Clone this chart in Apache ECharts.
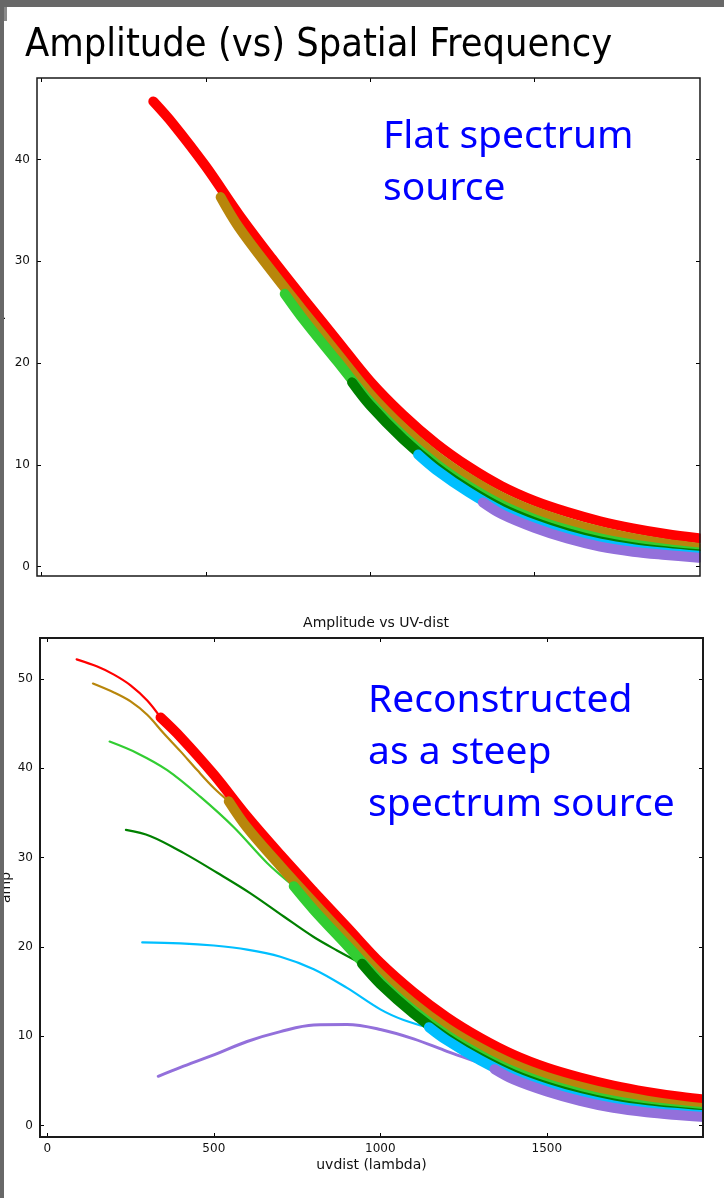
<!DOCTYPE html>
<html>
<head>
<meta charset="utf-8">
<script src="https://cdn.jsdelivr.net/npm/echarts@6/dist/echarts.min.js"></script>
<style>
  html, body { margin: 0; padding: 0; background: #ffffff; }
  #chart { width: 724px; height: 1198px; }
</style>
</head>
<body>
<div id="chart"></div>
<script>
// ---- Visibility amplitude vs uv-distance, one band per spectral window ----
// Measured data (thick bands), identical in both panels
const redUv     = [340, 400, 500, 600, 700, 800, 900, 1000, 1100, 1200, 1300, 1400, 1500, 1600, 1700, 1800, 1900, 2000];
const redAmp    = [45.7, 43.5, 39.3, 34.6, 30.3, 26.2, 22.2, 18.2, 14.9, 12.1, 9.8, 7.9, 6.45, 5.35, 4.45, 3.75, 3.2, 2.78];
const goldUv    = [545, 600, 700, 800, 900, 1000, 1100, 1200, 1300, 1400, 1500, 1600, 1700, 1800, 1900, 2000];
const goldAmp   = [36.3, 33.35, 29.05, 24.95, 20.95, 16.95, 13.65, 10.9, 8.68, 6.84, 5.43, 4.35, 3.47, 2.78, 2.24, 1.83];
const limeUv    = [740, 800, 900, 1000, 1100, 1200, 1300, 1400, 1500, 1600, 1700, 1800, 1900, 2000];
const limeAmp   = [26.8, 24.15, 20.15, 16.15, 12.85, 10.1, 7.88, 6.05, 4.66, 3.6, 2.76, 2.16, 1.72, 1.38];
const greenUv   = [945, 1000, 1100, 1200, 1300, 1400, 1500, 1600, 1700, 1800, 1900, 2000];
const greenAmp  = [18.1, 15.83, 12.53, 9.78, 7.56, 5.72, 4.35, 3.29, 2.47, 1.91, 1.51, 1.2];
const skyUv     = [1146, 1200, 1300, 1400, 1500, 1600, 1700, 1800, 1900, 2000];
const skyAmp    = [11.0, 9.52, 7.3, 5.47, 4.11, 3.05, 2.25, 1.71, 1.35, 1.05];
const purpleUv  = [1343, 1400, 1500, 1600, 1700, 1800, 1900, 2000];
const purpleAmp = [6.3, 5.15, 3.8, 2.75, 1.96, 1.46, 1.14, 0.87];

// Steep-spectrum reconstruction (thin model curves), lower panel only
const redModelUv     = [88, 150, 200, 250, 300, 340];
const redModelAmp    = [52.2, 51.4, 50.5, 49.3, 47.6, 45.7];
const goldModelUv    = [137, 200, 250, 300, 350, 400, 450, 500, 545];
const goldModelAmp   = [49.5, 48.5, 47.5, 46.0, 43.9, 41.9, 39.8, 37.8, 36.3];
const limeModelUv    = [187, 270, 360, 460, 560, 660, 740];
const limeModelAmp   = [43.0, 41.7, 39.8, 36.8, 33.4, 29.4, 26.8];
const greenModelUv   = [236, 310, 410, 510, 610, 710, 800, 870, 940];
const greenModelAmp  = [33.1, 32.4, 30.5, 28.3, 26.0, 23.4, 21.1, 19.6, 18.2];
const skyModelUv     = [285, 400, 500, 600, 700, 800, 900, 1000, 1070, 1140];
const skyModelAmp    = [20.5, 20.4, 20.15, 19.7, 18.9, 17.5, 15.4, 13.0, 11.8, 11.0];
const purpleModelUv  = [333, 400, 500, 600, 700, 800, 900, 1000, 1100, 1200, 1300, 1343];
const purpleModelAmp = [5.5, 6.5, 7.9, 9.4, 10.5, 11.25, 11.3, 10.75, 9.7, 8.3, 6.95, 6.3];

// Tick values
const uvTicks = [0, 500, 1000, 1500];
const ampTicksTop = [0, 10, 20, 30, 40];
const ampTicksBottom = [0, 10, 20, 30, 40, 50];

// Text
const slideTitle = 'Amplitude (vs) Spatial Frequency';
const plotTitle = 'Amplitude vs UV-dist';
const xName = 'uvdist (lambda)';
const yName = 'amp';
const noteTop = ['Flat spectrum', 'source'];
const noteBottom = ['Reconstructed', 'as a steep', 'spectrum source'];

// ---- drawing ----
const colors = ['#ff0000', '#b8860b', '#32cd32', '#008000', '#00bfff', '#9370db'];
const bandUv  = [redUv, goldUv, limeUv, greenUv, skyUv, purpleUv];
const bandAmp = [redAmp, goldAmp, limeAmp, greenAmp, skyAmp, purpleAmp];
const modelUv  = [redModelUv, goldModelUv, limeModelUv, greenModelUv, skyModelUv, purpleModelUv];
const modelAmp = [redModelAmp, goldModelAmp, limeModelAmp, greenModelAmp, skyModelAmp, purpleModelAmp];

const pairs = (xs, ys) => xs.map((x, i) => [x, ys[i]]);

const FONT = "'DejaVu Sans', sans-serif";
const NOTE_FONT = "'Noto Sans', 'Open Sans', sans-serif";
const TITLE_FONT = "'DejaVu Sans Condensed', 'Liberation Sans Narrow', 'DejaVu Sans', sans-serif";

function fitSize(text, family, width) {
  const ctx = document.createElement('canvas').getContext('2d');
  ctx.font = '100px ' + family;
  return 100 * width / ctx.measureText(text).width;
}
const titleSize = fitSize(slideTitle, TITLE_FONT, 588);

// panel frames (pixels)
const panels = [
  { left: 37, top: 78, width: 663, height: 498, border: 1.5 },
  { left: 40, top: 638, width: 663, height: 499, border: 2 }
];

const tickStyle = () => ({ show: true, inside: true, length: 4, lineStyle: { color: '#000', width: 1 } });
const labelStyle = () => ({ color: '#111', fontSize: 12, fontFamily: FONT, formatter: v => String(v) });
const hiddenLine = { show: false, onZero: false };

function xAxes(grid, min, max, withLabels) {
  return [
    {
      type: 'value', gridIndex: grid, position: 'bottom', min, max, show: true,
      axisLine: hiddenLine, splitLine: { show: false },
      axisTick: Object.assign(tickStyle(), { customValues: uvTicks }),
      axisLabel: withLabels
        ? Object.assign(labelStyle(), { customValues: uvTicks, margin: 6 })
        : { show: false },
      name: withLabels ? xName : '', nameLocation: 'middle', nameGap: 21, nameMoveOverlap: false,
      nameTextStyle: { color: '#111', fontSize: 14, fontFamily: FONT }
    },
    {
      type: 'value', gridIndex: grid, position: 'top', min, max, show: true,
      axisLine: hiddenLine, splitLine: { show: false },
      axisTick: Object.assign(tickStyle(), { customValues: uvTicks }),
      axisLabel: { show: false }
    }
  ];
}
function yAxes(grid, min, max, ticks, gap) {
  return [
    {
      type: 'value', gridIndex: grid, position: 'left', min, max, show: true,
      axisLine: hiddenLine, splitLine: { show: false },
      axisTick: Object.assign(tickStyle(), { customValues: ticks }),
      axisLabel: Object.assign(labelStyle(), { customValues: ticks, margin: 7 }),
      name: yName, nameLocation: 'middle', nameRotate: 90, nameGap: gap, nameMoveOverlap: false,
      nameTextStyle: { color: '#111', fontSize: 14, fontFamily: FONT }
    },
    {
      type: 'value', gridIndex: grid, position: 'right', min, max, show: true,
      axisLine: hiddenLine, splitLine: { show: false },
      axisTick: Object.assign(tickStyle(), { customValues: ticks }),
      axisLabel: { show: false }
    }
  ];
}

const curveBase = {
  type: 'line', showSymbol: false, symbol: 'none', smooth: 0.35,
  silent: true, animation: false
};
function band(i, xIdx, yIdx, width) {
  return Object.assign({}, curveBase, {
    xAxisIndex: xIdx, yAxisIndex: yIdx,
    data: pairs(bandUv[i], bandAmp[i]),
    lineStyle: { color: colors[i], width, cap: 'round', join: 'round' }
  });
}
function model(i, xIdx, yIdx) {
  return Object.assign({}, curveBase, {
    xAxisIndex: xIdx, yAxisIndex: yIdx,
    data: pairs(modelUv[i], modelAmp[i]),
    lineStyle: { color: colors[i], width: i === 5 ? 3 : 2.2, cap: 'round', join: 'round' }
  });
}
// empty series that keep the mirrored frame axes (top / right) alive
function anchor(xIdx, yIdx) {
  return { type: 'line', xAxisIndex: xIdx, yAxisIndex: yIdx, data: [], silent: true, symbol: 'none' };
}

const series = [anchor(1, 1), anchor(3, 3)];
for (let i = 0; i < 6; i++) series.push(band(i, 0, 0, 10));
for (let i = 0; i < 6; i++) series.push(model(i, 2, 2));
for (let i = 0; i < 6; i++) series.push(band(i, 2, 2, 10));

const noteText = (lines, x, y) => lines.map((t, k) => ({
  type: 'text', left: x, top: y + k * 52, z: 50,
  style: { text: t, fill: '#0000ff', font: '39px ' + NOTE_FONT }
}));

// white margin to the right of each frame (thick strokes stop at the spine), then the frame itself
const frameGraphics = [];
panels.forEach(p => {
  frameGraphics.push({
    type: 'rect', left: p.left + p.width + p.border / 2, top: p.top - 10, z: 80, silent: true,
    shape: { width: 30, height: p.height + 20 }, style: { fill: '#ffffff' }
  });
  frameGraphics.push({
    type: 'rect', z: 90, silent: true,
    shape: { x: p.left, y: p.top, width: p.width, height: p.height },
    style: { fill: 'none', stroke: '#1a1a1a', lineWidth: p.border }
  });
});

const option = {
  animation: false,
  backgroundColor: '#ffffff',
  grid: panels.map(p => ({
    left: p.left, top: p.top, width: p.width, height: p.height,
    show: false, containLabel: false, outerBoundsMode: 'none'
  })),
  title: {
    text: plotTitle, left: 371, top: 611, textAlign: 'center',
    textStyle: { color: '#111', fontSize: 14, fontWeight: 'normal', fontFamily: FONT }
  },
  xAxis: [].concat(xAxes(0, -14, 2004, false), xAxes(1, -22, 1969, true)),
  yAxis: [].concat(yAxes(0, -0.93, 48, ampTicksTop, 32), yAxes(1, -1.3, 54.6, ampTicksBottom, 27)),
  series,
  graphic: [
    {
      type: 'text', left: 25, top: 51 - titleSize * 0.62, z: 50,
      style: { text: slideTitle, fill: '#000', font: titleSize.toFixed(1) + 'px ' + TITLE_FONT }
    },
    ...noteText(noteTop, 383, 117),
    ...noteText(noteBottom, 368, 681),
    ...frameGraphics,
    // slide edge
    { type: 'rect', left: 0, top: 0, z: 100, shape: { width: 724, height: 7 }, style: { fill: '#686868' } },
    { type: 'rect', left: 0, top: 0, z: 100, shape: { width: 4, height: 1198 }, style: { fill: '#686868' } },
    { type: 'rect', left: 4, top: 7, z: 100, shape: { width: 3, height: 14 }, style: { fill: '#8a8a8a' } }
  ]
};

const chart = echarts.init(document.getElementById('chart'), null, { renderer: 'canvas' });
chart.setOption(option);
</script>
</body>
</html>
